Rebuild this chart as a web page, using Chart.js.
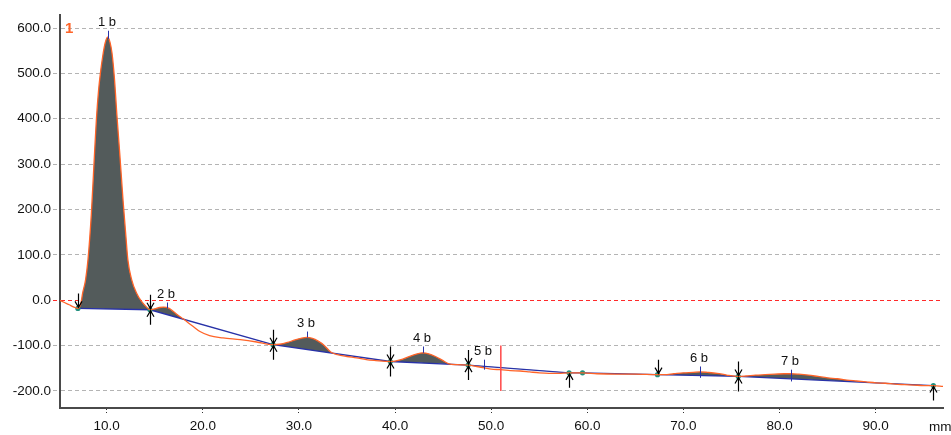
<!DOCTYPE html>
<html>
<head>
<meta charset="utf-8">
<script src="https://cdn.jsdelivr.net/npm/chart.js@4.4.1/dist/chart.umd.min.js"></script>
<style>
  html, body { margin: 0; padding: 0; background: #fff; }
  #wrap { width: 951px; height: 435px; }
</style>
</head>
<body>
<div id="wrap"><canvas id="densChart" width="951" height="435"></canvas></div>
<script>
// densitometer scan, lane 1
const signalX = [5.1, 5.6, 6.1, 6.6, 7.0, 7.3, 7.5, 7.8, 8.05, 8.4, 8.75, 8.93, 9.15, 9.34, 9.6, 9.85, 10.1,
  10.35, 10.55, 10.8, 11.07, 11.35, 11.7, 12.0, 12.2, 12.6, 13.1, 13.6, 14.1, 14.5, 15.0, 15.5, 15.9,
  16.5, 17.0, 17.6, 17.95, 18.5, 19.0, 19.7, 20.7, 22.1, 23.9, 25.6, 27.3, 28.0, 28.8, 29.5, 30.2,
  30.8, 31.4, 32.0, 32.6, 33.3, 34.0, 35.0, 36.0, 37.0, 38.0, 39.5, 40.0, 40.8, 41.6, 42.3, 42.9,
  43.5, 44.2, 44.9, 45.6, 46.5, 47.6, 48.5, 49.3, 50.0, 51.0, 52.0, 53.0, 54.0, 55.0, 56.0, 57.0,
  58.1, 59.5, 61.0, 63.0, 65.0, 67.3, 68.0, 69.0, 70.0, 71.0, 71.7, 72.5, 73.5, 74.5, 75.7, 76.5,
  77.5, 78.5, 79.5, 80.5, 81.2, 82.0, 83.0, 84.0, 85.0, 86.0, 87.0, 88.0, 89.0, 90.0, 91.0, 92.0,
  93.0, 94.0, 95.0, 96.0, 97.0];
const signalY = [0, -5, -10, -15, -18, -8, 16, 45, 89, 190, 331, 400, 462, 500, 540, 568, 580,
  568, 545, 490, 405, 325, 220, 140, 89, 45, 16, -2, -14, -21, -19, -16, -15,
  -18, -26, -36, -41, -50, -58, -69, -78, -83, -87, -92, -98, -97, -93, -88, -84,
  -82, -84, -90, -99, -114, -120, -124, -127, -131, -133, -135, -134, -130, -123, -118, -116,
  -118, -124, -132, -140, -142, -143, -146, -149, -152, -153, -155, -156, -158, -160, -161, -161,
  -160, -160, -162, -163, -163, -164, -164, -162, -160, -159, -158, -159, -161, -165, -168, -167,
  -165, -164, -163, -162, -162, -163, -165, -168, -171, -173, -176, -178, -180, -182, -183, -185,
  -186, -187, -188, -188, -190];

// baseline anchor points and the arrow marks drawn at each one
const baseX = [7.0, 14.5, 27.3, 39.5, 47.6, 58.1, 59.5, 67.3, 75.7, 96.0];
const baseY = [-18, -21, -98, -135, -143, -160, -160, -164, -168, -188];
const baseMarks = ['down', 'both', 'both', 'both', 'both', 'up', '', 'down', 'both', 'up'];

// peak labels with the little blue apex ticks
const peakNames = ['1 b', '2 b', '3 b', '4 b', '5 b', '6 b', '7 b'];
const peakX = [10.1, 16.3, 30.8, 42.9, 49.3, 71.7, 81.2];
const peakTickTop = [594, -5, -69, -102, -131, -146, -153];
const peakTickBottom = [576, -18, -82, -116, -153, -171, -179];

const cursorX = 51.0;
const cursorY = [-100, -200];

const xTicks = [10, 20, 30, 40, 50, 60, 70, 80, 90];
const yTicks = [-200, -100, 0, 100, 200, 300, 400, 500, 600];

const laneName = '1';
const xUnit = 'mm';

const ORANGE = '#ff6428';
const BLUE = '#2832a8';
const GREY_FILL = '#535b5b';

const signal = signalX.map((x, i) => ({ x: x, y: signalY[i] }));
const baseline = baseX.map((x, i) => ({ x: x, y: baseY[i] }));
const peakArea = signal.filter(p => p.x >= baseX[0] && p.x <= baseX[baseX.length - 1]);

Chart.defaults.font.family = '"Liberation Sans", Arial, sans-serif';
Chart.defaults.color = '#111';

const marksPlugin = {
  id: 'marks',
  afterDatasetsDraw(chart) {
    const { ctx, scales: { x, y } } = chart;
    ctx.save();

    // arrows on the baseline anchors
    ctx.strokeStyle = '#000';
    ctx.lineWidth = 1.2;
    baseX.forEach((bx, i) => {
      const m = baseMarks[i];
      const px = Math.round(x.getPixelForValue(bx)) + 0.5;
      const py = y.getPixelForValue(baseY[i]);
      if (m === 'down' || m === 'both') {
        ctx.beginPath();
        ctx.moveTo(px, py - 15); ctx.lineTo(px, py - 1);
        ctx.moveTo(px - 3.5, py - 7); ctx.lineTo(px, py - 1); ctx.lineTo(px + 3.5, py - 7);
        ctx.stroke();
      }
      if (m === 'up' || m === 'both') {
        ctx.beginPath();
        ctx.moveTo(px, py + 15); ctx.lineTo(px, py + 1);
        ctx.moveTo(px - 3.5, py + 7); ctx.lineTo(px, py + 1); ctx.lineTo(px + 3.5, py + 7);
        ctx.stroke();
      }
    });

    // peak ticks and names
    ctx.font = '13px "Liberation Sans", Arial, sans-serif';
    ctx.textAlign = 'center';
    ctx.textBaseline = 'middle';
    peakX.forEach((pxv, i) => {
      const px = Math.round(x.getPixelForValue(pxv)) + 0.5;
      const top = y.getPixelForValue(peakTickTop[i]);
      const bottom = y.getPixelForValue(peakTickBottom[i]);
      ctx.strokeStyle = BLUE;
      ctx.lineWidth = 1;
      ctx.beginPath();
      ctx.moveTo(px, top); ctx.lineTo(px, bottom);
      ctx.stroke();
      ctx.fillStyle = '#111';
      ctx.fillText(peakNames[i], px - 1.5, top - 8);
    });

    // lane number and axis unit
    ctx.textAlign = 'left';
    ctx.fillStyle = ORANGE;
    ctx.font = 'bold 15px "Liberation Sans", Arial, sans-serif';
    ctx.fillText(laneName, chart.chartArea.left + 5, y.getPixelForValue(600) + 1);
    ctx.fillStyle = '#111';
    ctx.font = '13.5px "Liberation Sans", Arial, sans-serif';
    ctx.fillText(xUnit, chart.chartArea.right - 14, 427);
    ctx.restore();
  }
};

new Chart(document.getElementById('densChart'), {
  type: 'line',
  data: {
    datasets: [
      {
        label: 'peaks',
        data: peakArea,
        borderWidth: 0,
        pointRadius: 0,
        cubicInterpolationMode: 'monotone',
        backgroundColor: GREY_FILL,
        fill: { target: 2, above: GREY_FILL, below: 'rgba(0,0,0,0)' },
        order: 4,
      },
      {
        label: 'signal',
        data: signal,
        borderColor: ORANGE,
        borderWidth: 1.3,
        pointRadius: 0,
        cubicInterpolationMode: 'monotone',
        fill: false,
        order: 1,
      },
      {
        label: 'baseline',
        data: baseline,
        borderColor: BLUE,
        borderWidth: 1.3,
        pointRadius: 2.6,
        pointBorderWidth: 0,
        pointBackgroundColor: '#23907f',
        fill: false,
        order: 2,
      },
      {
        label: 'cursor',
        data: cursorY.map(v => ({ x: cursorX, y: v })),
        borderColor: '#ff4848',
        borderWidth: 1.5,
        pointRadius: 0,
        fill: false,
        order: 0,
      },
    ],
  },
  options: {
    responsive: false,
    animation: false,
    layout: { padding: { top: 15, right: 8, left: 0, bottom: 0 } },
    plugins: { legend: { display: false }, tooltip: { enabled: false } },
    scales: {
      x: {
        type: 'linear',
        min: 5.14,
        max: 97,
        afterBuildTicks: s => { s.ticks = xTicks.map(v => ({ value: v })); },
        afterFit: s => { s.height = 27; },
        ticks: {
          callback: v => v.toFixed(1),
          font: { size: 13.5 },
          padding: 3,
          maxRotation: 0,
        },
        grid: {
          drawOnChartArea: false,
          tickLength: 7,
          tickColor: '#333',
          tickBorderDash: [1, 2],
        },
        border: { color: '#4a4a4a', width: 2 },
      },
      y: {
        min: -237.5,
        max: 628.7,
        afterBuildTicks: s => { s.ticks = yTicks.map(v => ({ value: v })); },
        afterFit: s => { s.width = 60; },
        ticks: {
          callback: v => v.toFixed(1),
          font: { size: 13.5 },
          padding: 2,
        },
        grid: {
          color: c => (c.tick && c.tick.value === 0 ? '#ff2a2a' : '#b4b4b4'),
          tickColor: c => (c.tick && c.tick.value === 0 ? '#ff2a2a' : '#b4b4b4'),
          lineWidth: 1,
          tickLength: 7,
          tickBorderDash: [4, 3],
        },
        border: { color: '#4a4a4a', width: 2, dash: [4, 3] },
      },
    },
  },
  plugins: [marksPlugin],
});
</script>
</body>
</html>
